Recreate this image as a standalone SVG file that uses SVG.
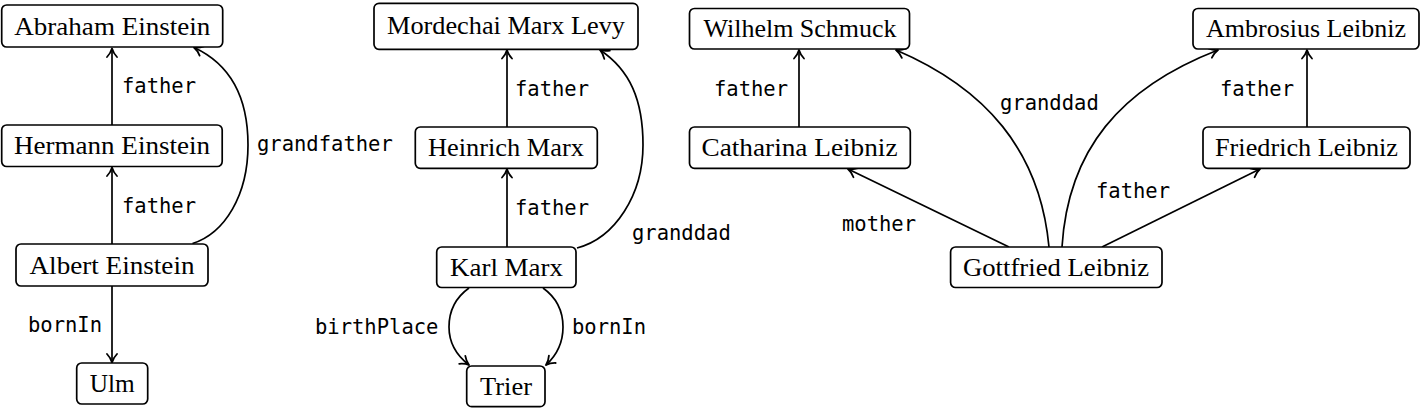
<svg xmlns="http://www.w3.org/2000/svg" width="1421" height="408" viewBox="0 0 1421 408">
<style>
.box{fill:#fff;stroke:#000;stroke-width:1.7}
.nt{font-family:"Liberation Serif","Times New Roman",serif;font-size:24.5px;fill:#000;text-anchor:middle}
.lb{font-family:"DejaVu Sans Mono","Liberation Mono",monospace;font-size:20.5px;fill:#000}
.e{fill:none;stroke:#000;stroke-width:1.7;marker-end:url(#arr)}
</style>
<defs>
<marker id="arr" markerUnits="userSpaceOnUse" markerWidth="20" markerHeight="20" viewBox="-10 -10 20 20" refX="0" refY="0" orient="auto">
<path d="M-8.5,-5 C-6,-2.6 -2.8,-0.8 0,0 C-2.8,0.8 -6,2.6 -8.5,5" fill="none" stroke="#000" stroke-width="1.8" stroke-linecap="round" stroke-linejoin="round"/>
</marker>
</defs>
<g id="connectors">
<path class="e" d="M112,125 L112,48.5"/>
<path class="e" d="M112,244 L112,167.5"/>
<path class="e" d="M112,286 L112,362.5"/>
<path class="e" d="M192.5,243.5 C225,233 248,195 248,145 C248,100 232,65 194,47.5"/>
<text class="lb" x="122" y="93">father</text>
<text class="lb" x="122" y="213">father</text>
<text class="lb" x="28" y="332">bornIn</text>
<text class="lb" x="257" y="151">grandfather</text>

<path class="e" d="M507,127 L507,50"/>
<path class="e" d="M507,247 L507,169"/>
<path class="e" d="M577,248 C615,238 643,195 643,145 C643,100 630,70 600,50"/>
<path class="e" d="M469,288 C455,298 449,312 449,327 C449,342 456,355 469,365"/>
<path class="e" d="M543,288 C557,298 563,312 563,327 C563,342 557,355 546,365"/>
<text class="lb" x="515" y="96">father</text>
<text class="lb" x="515" y="215">father</text>
<text class="lb" x="632" y="240">granddad</text>
<text class="lb" x="315" y="334">birthPlace</text>
<text class="lb" x="572" y="334">bornIn</text>

<path class="e" d="M799,127 L799,50"/>
<path class="e" d="M1307,127 L1307,50"/>
<path class="e" d="M1009,247 L848,169"/>
<path class="e" d="M1102,247 L1260,169"/>
<path class="e" d="M1049,247 C1040,150 985,88 896,50"/>
<path class="e" d="M1062,247 C1068,150 1120,88 1218,50"/>
<text class="lb" x="714" y="96">father</text>
<text class="lb" x="1220" y="96">father</text>
<text class="lb" x="1000" y="110">granddad</text>
<text class="lb" x="1096" y="198">father</text>
<text class="lb" x="842" y="231">mother</text>
</g>

<g id="abraham"><rect class="box" x="1.7" y="5" width="221" height="42" rx="5"/><text class="nt" x="112.3" y="35" textLength="196" lengthAdjust="spacingAndGlyphs">Abraham Einstein</text></g>
<g id="hermann"><rect class="box" x="1.7" y="125" width="220.5" height="41.5" rx="5"/><text class="nt" x="112" y="154" textLength="196" lengthAdjust="spacingAndGlyphs">Hermann Einstein</text></g>
<g id="albert"><rect class="box" x="16" y="244" width="192" height="42" rx="5"/><text class="nt" x="112" y="273.5" textLength="165" lengthAdjust="spacingAndGlyphs">Albert Einstein</text></g>
<g id="ulm"><rect class="box" x="76.7" y="363" width="71" height="41" rx="5"/><text class="nt" x="112.3" y="392" textLength="45" lengthAdjust="spacingAndGlyphs">Ulm</text></g>

<g id="mordechai"><rect class="box" x="374" y="3.3" width="264" height="46" rx="5"/><text class="nt" x="506" y="34" textLength="238" lengthAdjust="spacingAndGlyphs">Mordechai Marx Levy</text></g>
<g id="heinrich"><rect class="box" x="415.3" y="127" width="182" height="41.3" rx="5"/><text class="nt" x="506" y="156" textLength="156" lengthAdjust="spacingAndGlyphs">Heinrich Marx</text></g>
<g id="karl"><rect class="box" x="436.7" y="247" width="139.3" height="40.5" rx="5"/><text class="nt" x="506.5" y="275.5" textLength="113" lengthAdjust="spacingAndGlyphs">Karl Marx</text></g>
<g id="trier"><rect class="box" x="466.7" y="366" width="78.3" height="40.7" rx="5"/><text class="nt" x="506" y="395" textLength="52" lengthAdjust="spacingAndGlyphs">Trier</text></g>

<g id="wilhelm"><rect class="box" x="689.5" y="8.5" width="220" height="40.5" rx="5"/><text class="nt" x="800" y="37" textLength="193" lengthAdjust="spacingAndGlyphs">Wilhelm Schmuck</text></g>
<g id="ambrosius"><rect class="box" x="1193" y="8.5" width="226" height="40.5" rx="5"/><text class="nt" x="1306" y="37" textLength="200" lengthAdjust="spacingAndGlyphs">Ambrosius Leibniz</text></g>
<g id="catharina"><rect class="box" x="689.5" y="127" width="220.8" height="41.3" rx="5"/><text class="nt" x="799.5" y="156" textLength="196" lengthAdjust="spacingAndGlyphs">Catharina Leibniz</text></g>
<g id="friedrich"><rect class="box" x="1203" y="127" width="207" height="41.3" rx="5"/><text class="nt" x="1306.5" y="156" textLength="183" lengthAdjust="spacingAndGlyphs">Friedrich Leibniz</text></g>
<g id="gottfried"><rect class="box" x="950.6" y="247" width="211.4" height="40.5" rx="5"/><text class="nt" x="1056" y="275.5" textLength="186" lengthAdjust="spacingAndGlyphs">Gottfried Leibniz</text></g>
</svg>
